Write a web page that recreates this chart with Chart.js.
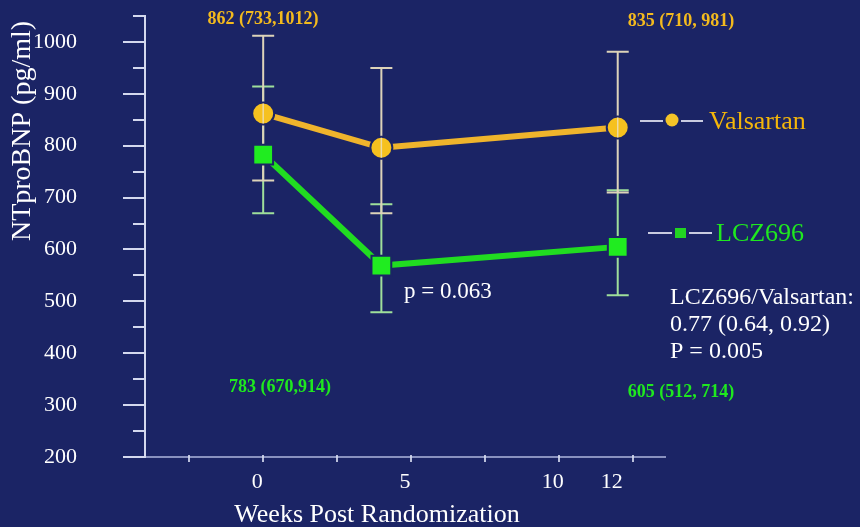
<!DOCTYPE html>
<html>
<head>
<meta charset="utf-8">
<script src="https://cdn.jsdelivr.net/npm/chart.js@4.4.1/dist/chart.umd.min.js"></script>
<style>
  html, body { margin: 0; padding: 0; background: #1b2465; }
  canvas { display: block; }
</style>
</head>
<body>
<canvas id="chart" width="860" height="527"></canvas>
<script>
// Weeks at which NT-proBNP was measured
const weeks = [0, 4, 12];

// Valsartan: geometric mean and 95% CI (pg/ml)
const valsartanMean = [862, 796, 835];
const valsartanLow  = [733, 670, 710];
const valsartanHigh = [1012, 950, 981];

// LCZ696: geometric mean and 95% CI (pg/ml)
const lczMean = [783, 569, 605];
const lczLow  = [670, 479, 512];
const lczHigh = [914, 687, 714];

// Axis ticks
const xTickValues = [-2.5, 0, 2.5, 5, 7.5, 10, 12, 12.5];
const xTickLabels = { 0: '0', 5: '5', 10: '10', 12: '12' };
const yTickValues = [200, 250, 300, 350, 400, 450, 500, 550, 600, 650, 700, 750, 800, 850, 900, 950, 1000, 1050];

const seriesNames = ['Valsartan', 'LCZ696'];

const FONT = '"Liberation Serif", "Times New Roman", Times, serif';
const BG = '#1b2465';
const GOLD = '#f3ba1e';
const GREEN = '#1fe81f';
const VAL_BAR = '#ddd3b9';
const LCZ_BAR = '#9fdf9b';

function ciText(mean, low, high, sep) {
  return mean + ' (' + low + ',' + sep + high + ')';
}

const background = {
  id: 'background',
  beforeDraw(chart) {
    const { ctx, width, height } = chart;
    ctx.save();
    ctx.fillStyle = BG;
    ctx.fillRect(0, 0, width, height);
    ctx.restore();
  }
};

// Hand-drawn tick marks: long at every 100 on y, short at the halves
const tickMarks = {
  id: 'tickMarks',
  afterDraw(chart) {
    const { ctx, scales: { x, y }, chartArea } = chart;
    ctx.save();
    ctx.strokeStyle = '#d4d8ee';
    ctx.lineWidth = 2;
    y.ticks.forEach(t => {
      const py = Math.round(y.getPixelForValue(t.value));
      const len = t.value % 100 === 0 ? 22 : 12;
      ctx.beginPath();
      ctx.moveTo(chartArea.left - len, py);
      ctx.lineTo(chartArea.left, py);
      ctx.stroke();
    });
    ctx.strokeStyle = 'rgba(215,220,240,0.85)';
    x.ticks.forEach(t => {
      if (t.value === 12) return;
      const px = Math.round(x.getPixelForValue(t.value));
      ctx.beginPath();
      ctx.moveTo(px, chartArea.bottom - 2);
      ctx.lineTo(px, chartArea.bottom + 5);
      ctx.stroke();
    });
    ctx.restore();
  }
};

function drawBars(chart, low, high, color) {
  const { ctx, scales: { x, y } } = chart;
  ctx.save();
  ctx.strokeStyle = color;
  ctx.lineWidth = 2;
  weeks.forEach((w, i) => {
    const px = x.getPixelForValue(w);
    const p1 = y.getPixelForValue(low[i]);
    const p2 = y.getPixelForValue(high[i]);
    ctx.beginPath();
    ctx.moveTo(px, p1); ctx.lineTo(px, p2);
    ctx.moveTo(px - 11, p1); ctx.lineTo(px + 11, p1);
    ctx.moveTo(px - 11, p2); ctx.lineTo(px + 11, p2);
    ctx.stroke();
  });
  ctx.restore();
}

const errorBars = {
  id: 'errorBars',
  beforeDatasetsDraw(chart) {
    drawBars(chart, lczLow, lczHigh, LCZ_BAR);
    drawBars(chart, valsartanLow, valsartanHigh, VAL_BAR);
  },
  afterDatasetsDraw(chart) {
    // the Valsartan bar shows through its circular markers
    const { ctx, scales: { x, y } } = chart;
    ctx.save();
    ctx.strokeStyle = 'rgba(235,225,200,0.8)';
    ctx.lineWidth = 1.5;
    weeks.forEach((w, i) => {
      const px = x.getPixelForValue(w);
      const py = y.getPixelForValue(valsartanMean[i]);
      ctx.beginPath();
      ctx.moveTo(px, py - 10); ctx.lineTo(px, py + 10);
      ctx.stroke();
    });
    ctx.restore();
  }
};

const annotations = {
  id: 'annotations',
  afterDraw(chart) {
    const { ctx } = chart;
    ctx.save();
    ctx.textBaseline = 'middle';

    // axis titles
    ctx.fillStyle = '#ffffff';
    ctx.font = '28px ' + FONT;
    ctx.save();
    ctx.translate(23, 131);
    ctx.rotate(-Math.PI / 2);
    ctx.textAlign = 'center';
    ctx.fillText('NTproBNP (pg/ml)', 0, 0);
    ctx.restore();
    ctx.textAlign = 'center';
    ctx.textBaseline = 'alphabetic';
    ctx.font = '26px ' + FONT;
    ctx.fillText('Weeks Post Randomization', 377, 522);
    ctx.textBaseline = 'middle';

    // mean (95% CI) labels
    ctx.font = 'bold 18px ' + FONT;
    ctx.textAlign = 'center';
    ctx.fillStyle = GOLD;
    ctx.fillText(ciText(valsartanMean[0], valsartanLow[0], valsartanHigh[0], ''), 263, 19);
    ctx.fillText(ciText(valsartanMean[2], valsartanLow[2], valsartanHigh[2], ' '), 681, 21);
    ctx.fillStyle = GREEN;
    ctx.fillText(ciText(lczMean[0], lczLow[0], lczHigh[0], ''), 280, 387);
    ctx.fillText(ciText(lczMean[2], lczLow[2], lczHigh[2], ' '), 681, 392);

    // statistics
    ctx.fillStyle = '#ffffff';
    ctx.textAlign = 'left';
    ctx.font = '23px ' + FONT;
    ctx.fillText('p = 0.063', 404, 292);
    ctx.font = '24px ' + FONT;
    ctx.fillText('LCZ696/Valsartan:', 670, 298);
    ctx.fillText('0.77 (0.64, 0.92)', 670, 325);
    ctx.fillText('P = 0.005', 670, 352);

    // legend
    ctx.strokeStyle = '#c9cbe0';
    ctx.lineWidth = 2;
    ctx.beginPath();
    ctx.moveTo(640, 121); ctx.lineTo(663, 121);
    ctx.moveTo(681, 121); ctx.lineTo(703, 121);
    ctx.moveTo(648, 233); ctx.lineTo(672, 233);
    ctx.moveTo(689, 233); ctx.lineTo(712, 233);
    ctx.stroke();
    ctx.fillStyle = '#f5c428';
    ctx.beginPath();
    ctx.arc(672, 120, 6.5, 0, Math.PI * 2);
    ctx.fill();
    ctx.fillStyle = '#22d422';
    ctx.fillRect(675, 228, 11, 10);

    ctx.font = '26px ' + FONT;
    ctx.fillStyle = '#f4b60a';
    ctx.fillText(seriesNames[0], 709, 122);
    ctx.fillStyle = GREEN;
    ctx.fillText(seriesNames[1], 716, 234);
    ctx.restore();
  }
};

new Chart(document.getElementById('chart'), {
  type: 'line',
  data: {
    datasets: [
      {
        label: seriesNames[0],
        data: weeks.map((w, i) => ({ x: w, y: valsartanMean[i] })),
        borderColor: '#efb42c',
        borderWidth: 6,
        pointStyle: 'circle',
        pointRadius: 11,
        pointBackgroundColor: '#f6c11f',
        pointBorderColor: BG,
        pointBorderWidth: 2,
        tension: 0
      },
      {
        label: seriesNames[1],
        data: weeks.map((w, i) => ({ x: w, y: lczMean[i] })),
        borderColor: '#21dc21',
        borderWidth: 6,
        pointStyle: 'rect',
        pointRadius: 14,
        pointBackgroundColor: '#20ec20',
        pointBorderColor: BG,
        pointBorderWidth: 2,
        tension: 0
      }
    ]
  },
  options: {
    responsive: false,
    animation: false,
    devicePixelRatio: 1,
    layout: { padding: { top: 16, right: 195, left: 0, bottom: 0 } },
    plugins: { legend: { display: false }, tooltip: { enabled: false } },
    scales: {
      x: {
        type: 'linear',
        min: -4,
        max: 13.6,
        afterBuildTicks: s => { s.ticks = xTickValues.map(v => ({ value: v })); },
        afterFit: s => { s.height = 70; s.paddingLeft = 0; s.paddingRight = 0; },
        grid: { display: false, drawTicks: false },
        border: { display: true, color: 'rgba(165,172,214,0.8)', width: 2 },
        ticks: {
          autoSkip: false,
          maxRotation: 0,
          padding: 12,
          labelOffset: -6,
          color: '#ffffff',
          font: { family: FONT, size: 22 },
          callback: v => (xTickLabels[v] !== undefined ? xTickLabels[v] : '')
        }
      },
      y: {
        min: 200,
        max: 1050,
        afterBuildTicks: s => { s.ticks = yTickValues.map(v => ({ value: v })); },
        afterFit: s => { s.width = 145; s.paddingTop = 0; s.paddingBottom = 0; },
        grid: { display: false, drawTicks: false },
        border: { display: true, color: '#d4d8ee', width: 2 },
        ticks: {
          autoSkip: false,
          padding: 68,
          color: '#ffffff',
          font: { family: FONT, size: 22 },
          callback: v => (v % 100 === 0 ? String(v) : '')
        }
      }
    }
  },
  plugins: [background, errorBars, tickMarks, annotations]
});
</script>
</body>
</html>
